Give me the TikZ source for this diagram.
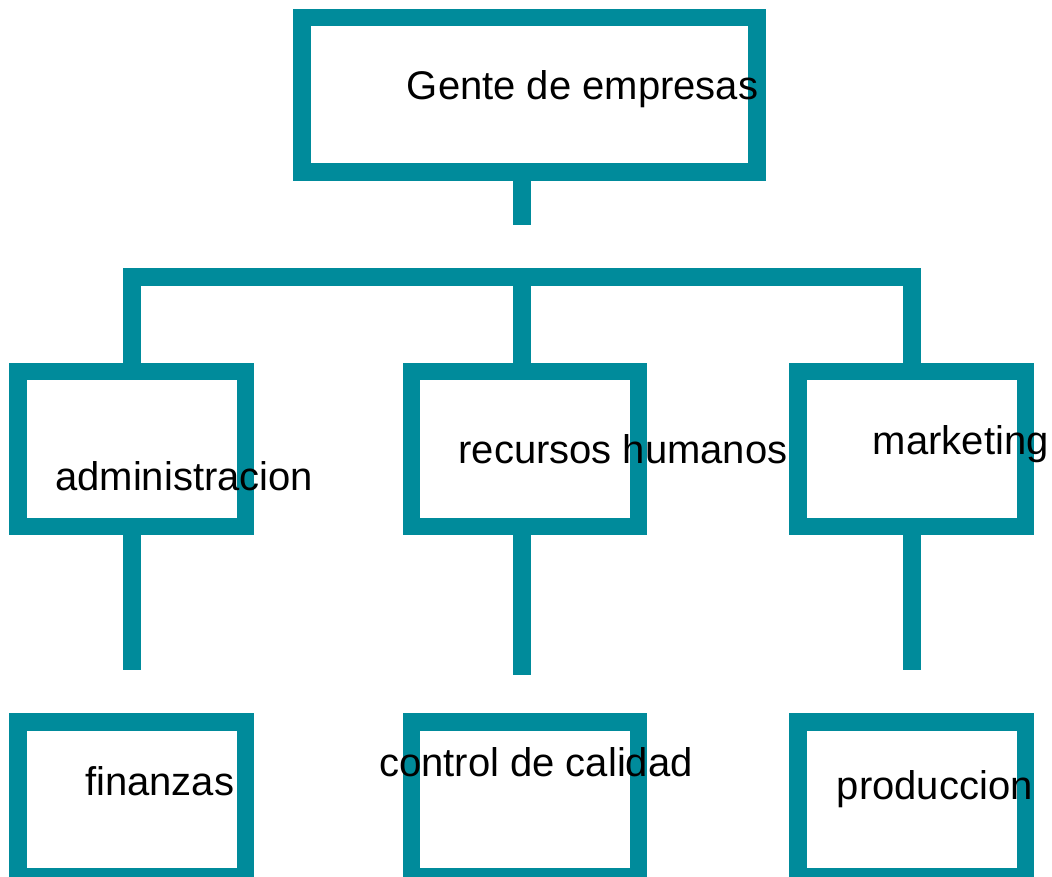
\documentclass[tikz,border=0pt]{standalone}
\usepackage{fontspec}
\setmainfont{Liberation Sans}
\usepackage{tikz}
\definecolor{sarcelle}{RGB}{0,139,155}

\begin{document}
\begin{tikzpicture}[x=1pt, y=-1pt]
	% STYLES
	\tikzstyle{boite} = [rectangle, draw=sarcelle, line width=17.5pt, inner sep=0pt, minimum width=227.3pt, minimum height=154.9pt]
	\tikzstyle{trait} = [draw=sarcelle, line width=17.5pt]
	\tikzstyle{texte} = [anchor=base west, inner sep=0pt, font=\fontsize{40}{48}\selectfont]

	\useasboundingbox (0,0) rectangle (1052,877);

	% BOITES
	\node[boite, minimum width=455pt, minimum height=154.5pt] at (529.5, 95) (top) {};
	\node[boite] at (131.8, 448.8) (adm) {};
	\node[boite] at (525, 448.8) (rh) {};
	\node[boite] at (911.8, 448.8) (mkt) {};
	\node[boite] at (131.8, 799.5) (fin) {};
	\node[boite] at (525, 799.5) (cal) {};
	\node[boite] at (911.8, 799.5) (prod) {};

	% POINTS
	\coordinate (tige) at (522, 225.3);
	\coordinate (barre) at (522, 277);
	\coordinate (finAdm) at (131.8, 670);
	\coordinate (finRh) at (522, 675.3);
	\coordinate (finMkt) at (911.8, 670);

	% TRAITS
	\path[trait] (top.south -| tige) -- (tige);
	\path[trait] (adm.north) |- (barre) -| (mkt.north);
	\path[trait] (barre) -- (rh.north -| barre);
	\path[trait] (adm.south) -- (finAdm);
	\path[trait] (rh.south -| finRh) -- (finRh);
	\path[trait] (mkt.south) -- (finMkt);

	% TEXTES
	\node[texte] at (406.7, 100) (tTop) {Gente de empresas};
	\node[texte] at (55, 490.7) (tAdm) {administracion};
	\node[texte] at (458.3, 463.3) (tRh) {recursos humanos};
	\node[texte] at (872.7, 454) (tMkt) {marketing};
	\node[texte] at (85, 795) (tFin) {finanzas};
	\node[texte] at (379, 776.7) (tCal) {control de calidad};
	\node[texte] at (836.7, 799.3) (tProd) {produccion};
\end{tikzpicture}
\end{document}
